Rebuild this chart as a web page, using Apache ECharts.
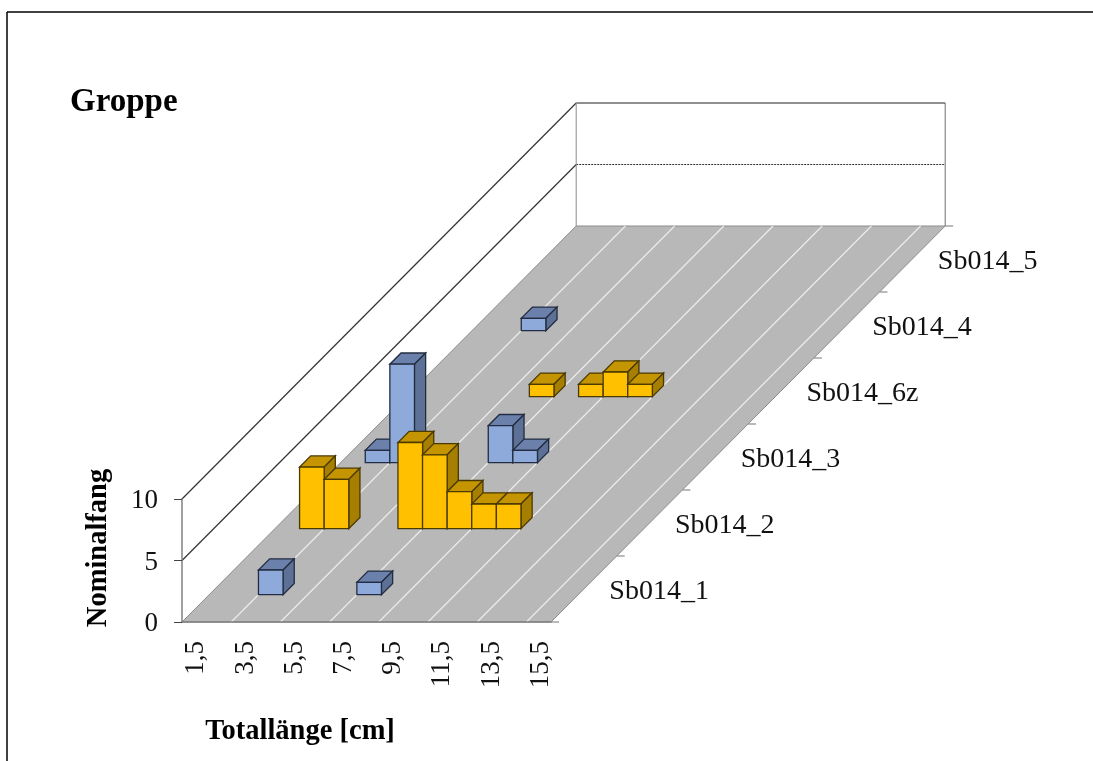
<!DOCTYPE html>
<html>
<head>
<meta charset="utf-8">
<style>
  html, body { margin: 0; padding: 0; background: #fff; }
  #chart { width: 1093px; height: 761px; }
</style>
<script src="https://cdn.jsdelivr.net/npm/echarts@6/dist/echarts.min.js"></script>
</head>
<body>
<div id="chart"></div>
<script>
// Totallaenge classes, every second one gets a label
const lengths = ['1,5','2,5','3,5','4,5','5,5','6,5','7,5','8,5','9,5','10,5','11,5','12,5','13,5','14,5','15,5'];
const rowLabels = ['Sb014_1','Sb014_2','Sb014_3','Sb014_6z','Sb014_4','Sb014_5'];
const valueTicks = [0, 5, 10];

// Nominalfang per length class, one array per row (front to back)
const sb014_1  = [0,0,2,0,0,0,1,0,0,0,0,0,0,0,0];
const sb014_2  = [0,5,4,0,0,7,6,3,2,2,0,0,0,0,0];
const sb014_3  = [0,1,8,0,0,0,3,1,0,0,0,0,0,0,0];
const sb014_6z = [0,0,0,0,0,1,0,1,2,1,0,0,0,0,0];
const sb014_4  = [0,0,1,0,0,0,0,0,0,0,0,0,0,0,0];
const sb014_5  = [0,0,0,0,0,0,0,0,0,0,0,0,0,0,0];
const rows = [sb014_1, sb014_2, sb014_3, sb014_6z, sb014_4, sb014_5];

const blue = { front: '#8eaadb', top: '#6b81ab', side: '#5d7096', line: '#232c42' };
const gold = { front: '#ffc000', top: '#c49500', side: '#a67e00', line: '#4a3900' };
const rowColors = [blue, gold, blue, gold, blue, gold];

// oblique projection: screen shift for one row of depth
const depthX = 65.7;
const depthY = -66;
const barDepth = 0.17; // share of a row
const serif = '"Liberation Serif", "Times New Roman", serif';

// tick labels sit a little low in the original
const tickText = { fontFamily: serif, fontSize: 27, color: '#111', padding: [4, 0, 0, 0] };

function shift(p, d) {
  return [p[0] + d * depthX, p[1] + d * depthY];
}

function polyline(points, color, width, dash) {
  return {
    type: 'polyline',
    shape: { points: points },
    style: { stroke: color, lineWidth: width, fill: null, lineDash: dash || null }
  };
}

// floor, walls, floor lines, row ticks, row labels
function renderFrame(params, api) {
  const depth = rowLabels.length;
  const band = api.size([1, 0])[0];
  const x0 = api.coord([0, 0])[0] - band / 2;
  const x1 = x0 + band * lengths.length;
  const y0 = api.coord([0, 0])[1];
  const yTop = api.coord([0, valueTicks[2]])[1];
  const children = [];

  children.push({
    type: 'polygon',
    shape: { points: [[x0, y0], [x1, y0], shift([x1, y0], depth), shift([x0, y0], depth)] },
    style: { fill: '#b8b8b8', stroke: '#8c8c8c', lineWidth: 1 }
  });

  // floor lines start on every second tick
  for (let i = 2; i < lengths.length; i += 2) {
    const x = x0 + band * i;
    children.push(polyline([[x, y0], shift([x, y0], depth)], '#ececec', 1.2));
  }

  // gridlines over left and back wall
  valueTicks.slice(1).forEach(function (v, k) {
    const y = api.coord([0, v])[1];
    const back = shift([x0, y], depth);
    const backEnd = shift([x1, y], depth);
    children.push(polyline([[x0, y], back], '#333333', 1.2));
    children.push(polyline([back, backEnd], k === 0 ? '#333333' : '#6a6a6a', k === 0 ? 1 : 1.5, k === 0 ? [2, 1] : null));
  });
  children.push(polyline([shift([x0, y0], depth), shift([x0, yTop], depth)], '#8c8c8c', 1));
  children.push(polyline([shift([x1, y0], depth), shift([x1, yTop], depth)], '#6e6e6e', 1));

  // row ticks and labels on the right floor edge
  for (let r = 0; r <= depth; r++) {
    const p = shift([x1, y0], r);
    children.push(polyline([p, [p[0] + 8, p[1]]], '#8c8c8c', 1.2));
    if (r < depth) {
      const c = shift([x1, y0], r + 0.5);
      children.push({
        type: 'text',
        style: {
          x: c[0] + 25.5, y: c[1] + 3, text: rowLabels[r],
          font: '28px ' + serif, fill: '#111', align: 'left', verticalAlign: 'middle'
        }
      });
    }
  }
  return { type: 'group', children: children };
}

function renderBar(params, api) {
  const r = params.seriesIndex - 1;
  const i = api.value(0);
  const v = api.value(1);
  if (!v) return null;
  const c = rowColors[r];
  const band = api.size([1, 0])[0];
  const start = (1 - barDepth) / 2 + r;
  const base = api.coord([i, 0]);
  const top = api.coord([i, v]);
  const fl = shift([base[0] - band / 2, base[1]], start);
  const fr = shift([base[0] + band / 2, base[1]], start);
  const tl = shift([top[0] - band / 2, top[1]], start);
  const tr = shift([top[0] + band / 2, top[1]], start);
  function face(points, fill) {
    return {
      type: 'polygon',
      shape: { points: points },
      style: { fill: fill, stroke: c.line, lineWidth: 1.3 }
    };
  }
  return {
    type: 'group',
    children: [
      face([tl, tr, shift(tr, barDepth), shift(tl, barDepth)], c.top),
      face([fr, tr, shift(tr, barDepth), shift(fr, barDepth)], c.side),
      face([tl, tr, fr, fl], c.front)
    ]
  };
}

const chart = echarts.init(document.getElementById('chart'));

const series = [{
  type: 'custom',
  renderItem: renderFrame,
  data: [[0, 0]],
  silent: true,
  z: 1
}];
rows.forEach(function (row, r) {
  series.push({
    type: 'custom',
    name: rowLabels[r],
    renderItem: renderBar,
    data: row.map(function (v, i) { return [i, v]; }),
    z: 2 + rows.length - r
  });
});

chart.setOption({
  animation: false,
  backgroundColor: '#fff',
  title: {
    text: 'Groppe',
    left: 65,
    top: 81,
    textStyle: { fontFamily: serif, fontSize: 33, fontWeight: 'bold', color: '#000' }
  },
  grid: { left: 182, top: 499, width: 369, height: 123 },
  xAxis: {
    type: 'category',
    data: lengths,
    boundaryGap: true,
    z: 10,
    axisLine: { lineStyle: { color: '#808080', width: 1.5 } },
    axisTick: { interval: 1, length: 9, lineStyle: { color: '#444' } },
    axisLabel: {
      interval: 1, rotate: 90, margin: 19,
      fontFamily: serif, fontSize: 27, color: '#111',
      formatter: '{t|{value}}', rich: { t: tickText }
    },
    splitLine: { show: false }
  },
  yAxis: {
    type: 'value',
    min: valueTicks[0],
    max: valueTicks[2],
    interval: 5,
    z: 10,
    axisLine: { show: true, lineStyle: { color: '#808080', width: 1.5 } },
    axisTick: { show: true, length: 8, lineStyle: { color: '#444' } },
    axisLabel: {
      margin: 24,
      fontFamily: serif, fontSize: 27, color: '#111',
      formatter: '{t|{value}}', rich: { t: tickText }
    },
    splitLine: { show: false }
  },
  graphic: [
    { type: 'line', shape: { x1: 7, y1: 12, x2: 1093, y2: 12 }, style: { stroke: '#000', lineWidth: 1.5 } },
    { type: 'line', shape: { x1: 7, y1: 12, x2: 7, y2: 761 }, style: { stroke: '#000', lineWidth: 1.5 } },
    {
      type: 'text', x: 300, y: 732,
      style: { text: 'Totallänge [cm]', font: 'bold 28.5px ' + serif, fill: '#000', align: 'center', verticalAlign: 'middle' }
    },
    {
      type: 'text', x: 99, y: 548, rotation: Math.PI / 2,
      style: { text: 'Nominalfang', font: 'bold 28.5px ' + serif, fill: '#000', align: 'center', verticalAlign: 'middle' }
    }
  ],
  series: series
});

window.addEventListener('resize', function () { chart.resize(); });
</script>
</body>
</html>
